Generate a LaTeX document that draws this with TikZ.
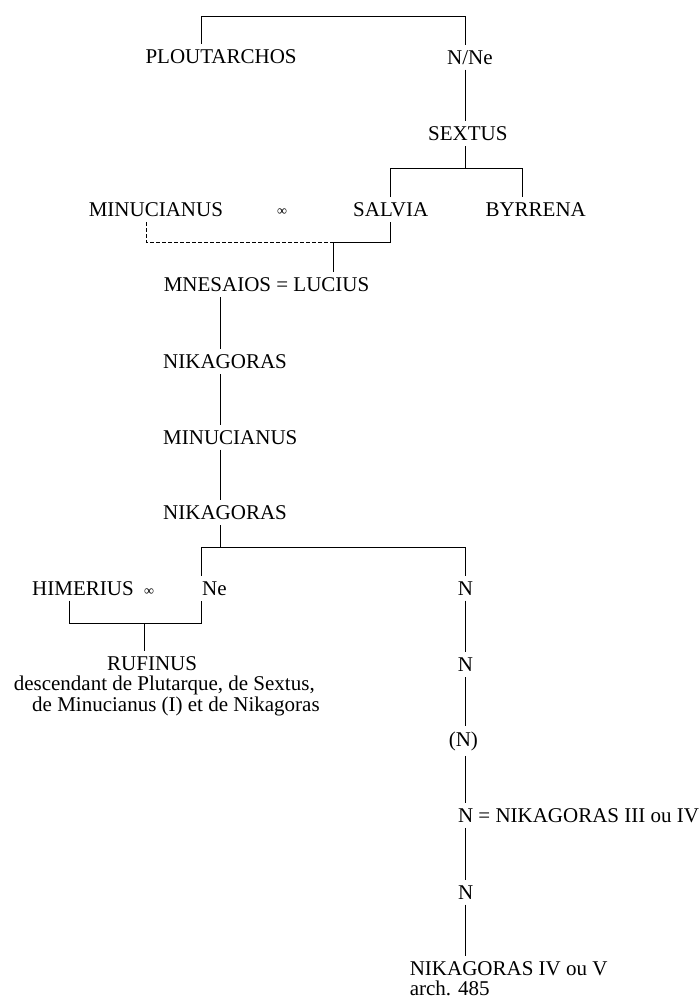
\documentclass[tikz,border=0pt]{standalone}
\usepackage{fontspec}
\setmainfont{Liberation Serif}

\begin{document}
\begin{tikzpicture}
  [x=0.5pt,y=-0.5pt,line width=0.5pt,
   every node/.style={anchor=base west,inner xsep=0pt,inner ysep=2.5pt,
     font=\fontsize{10.5}{12.6}\selectfont},
   wed/.style={anchor=center,inner sep=0pt,font=\fontsize{7}{8}\selectfont}]
  \useasboundingbox (0,0) rectangle (698,1001);
  % people
  \node (plout) at (145,63.3) {PLOUTARCHOS};
  \node (nne) at (446.7,64) {N/Ne};
  \node (sextus) at (427.7,140.7) {SEXTUS};
  \node (minucI) at (88.3,216.5) {MINUCIANUS};
  \node (salvia) at (352.7,216.5) {SALVIA};
  \node (byrrena) at (485,216.5) {BYRRENA};
  \node (mnesaios) at (163.3,291.7) {MNESAIOS = LUCIUS};
  \node (nikA) at (162.7,368.3) {NIKAGORAS};
  \node (minucII) at (162.7,444) {MINUCIANUS};
  \node (nikB) at (162.7,519.3) {NIKAGORAS};
  \node (himerius) at (31.7,595) {HIMERIUS};
  \node (ne) at (201.7,595) {Ne};
  \node (rufinus) at (106.7,670) {RUFINUS};
  \node (desc1) at (13.3,690) {descendant de Plutarque, de Sextus,};
  \node (desc2) at (31.7,711.5) {de Minucianus (I) et de Nikagoras};
  \node (nA) at (457.3,595) {N};
  \node (nB) at (457.3,671.7) {N};
  \node (nC) at (448.3,746) {(N)};
  \node (nD) at (457.5,822) {N = NIKAGORAS III ou IV};
  \node (nE) at (457.7,899) {N};
  \node (nikV) at (409.3,975) {NIKAGORAS IV ou V};
  \node (arch) at (409.3,995) {arch. 485};
  \node[wed] (wedA) at (282,211.7) {∞};
  \node[wed] (wedB) at (149,591.7) {∞};
  % junctions
  \coordinate (jT1) at (201,16.3);
  \coordinate (jT2) at (465.7,16.3);
  \coordinate (jS) at (465.7,168.3);
  \coordinate (jS1) at (390,168.3);
  \coordinate (jS2) at (522.7,168.3);
  \coordinate (jM1) at (146.7,242.7);
  \coordinate (jM2) at (330,242.7);
  \coordinate (jM3) at (390,242.7);
  \coordinate (jL) at (333.3,242.7);
  \coordinate (jN) at (220,547.3);
  \coordinate (jN1) at (201.5,547.3);
  \coordinate (jN2) at (465,547.3);
  \coordinate (jH1) at (69,623.3);
  \coordinate (jH2) at (201.5,623.3);
  \coordinate (jH3) at (144.3,623.3);
  % brackets
  \draw (plout.north -| jT1) -- (jT1) -- (jT2) -- (nne.north -| jT2);
  \draw (salvia.north -| jS1) -- (jS1) -- (jS2) -- (byrrena.north -| jS2);
  \draw (salvia.south -| jM3) -- (jM3) -- (jM2);
  \draw[dash pattern=on 2pt off 1pt] (minucI.south -| jM1) -- (jM1) -- (jM2);
  \draw (ne.north -| jN1) -- (jN1) -- (jN2) -- (nA.north -| jN2);
  \draw (himerius.south -| jH1) -- (jH1) -- (jH2) -- (ne.south -| jH2);
  \path[-,draw]
    (nne.south -| jT2) edge (sextus.north -| jT2)
    (sextus.south -| jS) edge (jS)
    (jL) edge (mnesaios.north -| jL)
    (mnesaios.south -| jN) edge (nikA.north -| jN)
    (nikA.south -| jN) edge (minucII.north -| jN)
    (minucII.south -| jN) edge (nikB.north -| jN)
    (nikB.south -| jN) edge (jN)
    (jH3) edge (rufinus.north -| jH3)
    (nA.south -| jN2) edge (nB.north -| jN2)
    (nB.south -| jN2) edge (nC.north -| jN2)
    (nC.south -| jN2) edge (nD.north -| jN2)
    (nD.south -| jN2) edge (nE.north -| jN2)
    (nE.south -| jN2) edge (nikV.north -| jN2)
    ;

\end{tikzpicture}
\end{document}
